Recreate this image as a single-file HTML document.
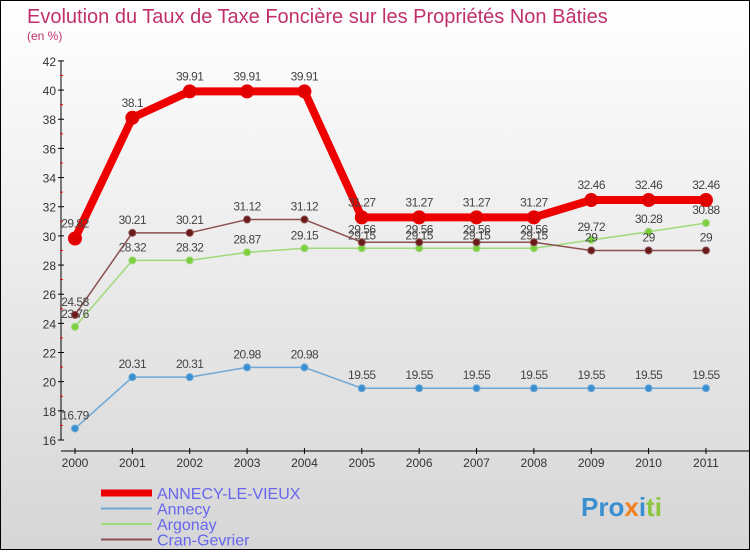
<!DOCTYPE html>
<html><head><meta charset="utf-8"><style>
body{margin:0;width:750px;height:550px;overflow:hidden;font-family:"Liberation Sans",sans-serif}
#wrap{position:relative;width:748px;height:548px;border:1px solid #000;background:linear-gradient(#fff,#d6d6d6)}
</style></head><body>
<div id="wrap">
<svg id="c" width="748" height="548">
<text x="26" y="22" font-size="20" fill="#c0306a">Evolution du Taux de Taxe Foncière sur les Propriétés Non Bâties</text>
<text x="26" y="39" font-size="12" fill="#c0306a">(en %)</text>
<g id="axes"></g><g id="series"></g><g id="legend"></g>
<text x="580" y="515" font-size="26" font-weight="bold"><tspan fill="#3a8fd0">Pro</tspan><tspan fill="#f08020">x</tspan><tspan fill="#3a8fd0">i</tspan><tspan fill="#8cc63f">ti</tspan></text>
</svg></div>
<script>
const years=[2000,2001,2002,2003,2004,2005,2006,2007,2008,2009,2010,2011];
const yTicks=[16,18,20,22,24,26,28,30,32,34,36,38,40,42];
const seriesNames=["ANNECY-LE-VIEUX","Annecy","Argonay","Cran-Gevrier"];
const avVals=[29.82,38.1,39.91,39.91,39.91,31.27,31.27,31.27,31.27,32.46,32.46,32.46];
const annecyVals=[16.79,20.31,20.31,20.98,20.98,19.55,19.55,19.55,19.55,19.55,19.55,19.55];
const argonayVals=[23.76,28.32,28.32,28.87,29.15,29.15,29.15,29.15,29.15,29.72,30.28,30.88];
const cranVals=[24.58,30.21,30.21,31.12,31.12,29.56,29.56,29.56,29.56,29,29,29];
const NS="http://www.w3.org/2000/svg";
function X(i){return 74+i*57.36;}
function Y(v){return 439-(v-16)*14.58;}
function mk(t,a,p){const e=document.createElementNS(NS,t);for(const k in a)e.setAttribute(k,a[k]);p.appendChild(e);return e;}
const ax=document.getElementById('axes');
let yl=mk('line',{x1:60,y1:Y(42),x2:60,y2:Y(16),stroke:'#000'},ax);


yTicks.forEach(v=>{
 mk('line',{x1:57,x2:63,y1:Y(v),y2:Y(v),stroke:'#000'},ax);
 if(v<42)mk('line',{x1:59,x2:62,y1:Y(v+1),y2:Y(v+1),stroke:'#e00'},ax);
 const t=mk('text',{x:55,y:Y(v)+5,'text-anchor':'end','font-size':12,fill:'#333'},ax);
 t.textContent=v;
 
 
});
let xl=mk('line',{x1:60,y1:450,x2:748,y2:450,stroke:'#000'},ax);


years.forEach((y,i)=>{
 mk('line',{x1:X(i),x2:X(i),y1:447,y2:453,stroke:'#000'},ax);
 const t=mk('text',{x:X(i),y:466,'text-anchor':'middle','font-size':12,fill:'#333'},ax);
 t.textContent=y;
 
 
});
const sg=document.getElementById('series');
function draw(vals,color,dot,w,r,name,labDy){
 const g=mk('g',{},sg);
 
 
 const p=mk('polyline',{points:vals.map((v,i)=>X(i)+','+Y(v)).join(' '),fill:'none',stroke:color,'stroke-width':w,'stroke-linejoin':'round'},g);
 
 
 vals.forEach((v,i)=>{
  const c=mk('circle',{cx:X(i),cy:Y(v),r:r,fill:dot,stroke:color,'stroke-width':1},g);
  
  
  const t=mk('text',{x:X(i),y:Y(v)-labDy,'text-anchor':'middle','font-size':12,fill:'#444','letter-spacing':'-0.5'},g);
  t.textContent=v;
  
  
 });
}
draw(annecyVals,'#6fa8d6','#3a8fd0',1.5,3.5,'annecy',9);
draw(argonayVals,'#9ed97a','#7ccf3f',1.5,3.5,'argonay',9);
draw(cranVals,'#8b5050','#6b1a1a',1.5,3.5,'cran-gevrier',9);
draw(avVals,'#ee0000','#e00000',8,6.5,'annecy-le-vieux',11);
const lg=document.getElementById('legend');
const cols=['#ee0000','#6fa8d6','#9ed97a','#8b5050'],ws=[7,2,2,2];
seriesNames.forEach((n,i)=>{
 const y=492+i*15.5;
 mk('line',{x1:100,x2:151,y1:y,y2:y,stroke:cols[i],'stroke-width':ws[i]},lg);
 const t=mk('text',{x:156,y:y+6,'font-size':16,fill:'#6666ee'},lg);
 t.textContent=n;
 
 
});
</script></body></html>
